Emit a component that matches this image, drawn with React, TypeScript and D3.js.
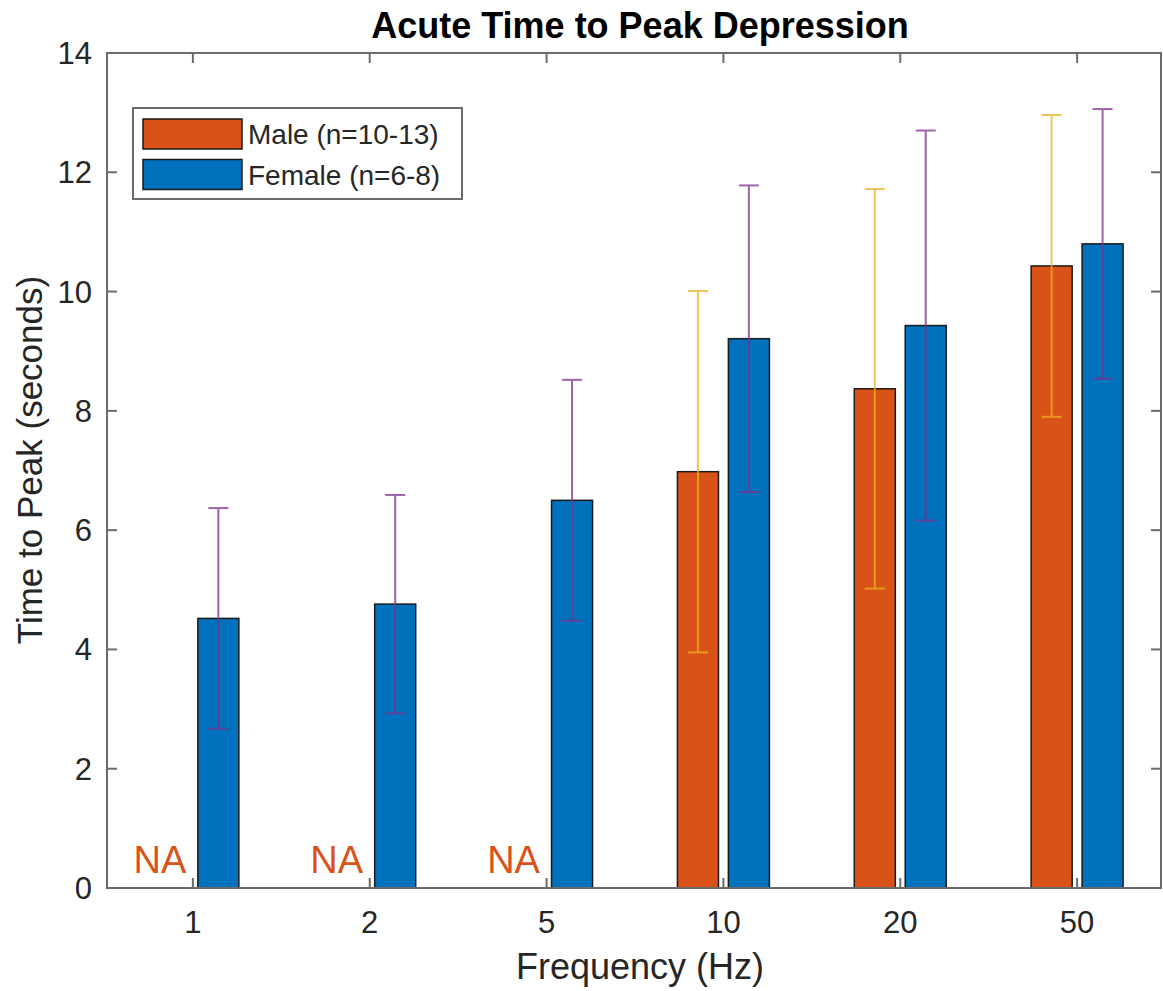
import React, { useRef, useEffect } from 'react';
import * as d3 from 'd3';

// chart data
const categories = ['1', '2', '5', '10', '20', '50'];
const maleMeans = [null, null, null, 6.98, 8.37, 10.43];
const maleErrors = [null, null, null, 3.03, 3.35, 2.53];
const femaleMeans = [4.52, 4.76, 6.5, 9.21, 9.43, 10.8];
const femaleErrors = [1.85, 1.83, 2.02, 2.57, 3.27, 2.26];
const yTicks = [0, 2, 4, 6, 8, 10, 12, 14];
const seriesNames = ['Male (n=10-13)', 'Female (n=6-8)'];

const App = () => {
  const ref = useRef(null);

  useEffect(() => {
    document.body.style.margin = '0';
    const svg = d3.select(ref.current);
    svg.selectAll('*').remove();

    const width = 1163;
    const height = 991;
    const font = '"Liberation Sans", Arial, sans-serif';
    const axisColor = '#6b6b6b';
    const textColor = '#262626';
    const maleColor = '#D95319';
    const femaleColor = '#0072BD';

    svg.attr('width', width).attr('height', height);
    svg.append('rect').attr('width', width).attr('height', height).attr('fill', '#fff');

    const left = 107, right = 1161, top = 53, bottom = 888;

    const x = d3.scalePoint().domain(categories).range([left + 1, right + 1]).padding(0.48);
    const y = d3.scaleLinear().domain([0, 14]).range([bottom, top]);

    const step = x.step();
    const barW = step * 0.232;
    const offset = step * 0.144;

    const series = [
      { name: seriesNames[0], means: maleMeans, errs: maleErrors, color: maleColor, errColor: '#EDB120', dx: -offset },
      { name: seriesNames[1], means: femaleMeans, errs: femaleErrors, color: femaleColor, errColor: '#7E2F8E', dx: offset }
    ];

    // bars
    series.forEach(s => {
      svg.append('g').selectAll('rect')
        .data(categories.map((c, i) => ({ c, v: s.means[i] })).filter(d => d.v != null))
        .enter()
        .append('rect')
        .attr('x', d => x(d.c) + s.dx - barW / 2)
        .attr('y', d => y(d.v))
        .attr('width', barW)
        .attr('height', d => y(0) - y(d.v))
        .attr('fill', s.color)
        .attr('stroke', '#1a1a1a')
        .attr('stroke-width', 1.5);
    });

    // error bars
    series.forEach(s => {
      const data = categories.map((c, i) => ({ c, v: s.means[i], e: s.errs[i] })).filter(d => d.v != null);
      const g = svg.append('g').attr('stroke', s.errColor).attr('stroke-width', 2).attr('opacity', 0.75);
      data.forEach(d => {
        const cx = x(d.c) + s.dx;
        g.append('line').attr('x1', cx).attr('x2', cx).attr('y1', y(d.v - d.e)).attr('y2', y(d.v + d.e));
        g.append('line').attr('x1', cx - 10).attr('x2', cx + 10).attr('y1', y(d.v - d.e)).attr('y2', y(d.v - d.e));
        g.append('line').attr('x1', cx - 10).attr('x2', cx + 10).attr('y1', y(d.v + d.e)).attr('y2', y(d.v + d.e));
      });
    });

    // NA labels where male data is missing
    svg.append('g').selectAll('text')
      .data(categories.filter((c, i) => maleMeans[i] == null))
      .enter()
      .append('text')
      .attr('x', d => x(d) - 33)
      .attr('y', 873)
      .attr('text-anchor', 'middle')
      .attr('font-family', font)
      .attr('font-size', 38)
      .attr('fill', maleColor)
      .text('NA');

    // axes box
    svg.append('rect')
      .attr('x', left).attr('y', top)
      .attr('width', right - left).attr('height', bottom - top)
      .attr('fill', 'none').attr('stroke', axisColor).attr('stroke-width', 2);

    const ticks = svg.append('g').attr('stroke', axisColor).attr('stroke-width', 2);
    categories.forEach(c => {
      ticks.append('line').attr('x1', x(c)).attr('x2', x(c)).attr('y1', bottom).attr('y2', bottom - 10);
      ticks.append('line').attr('x1', x(c)).attr('x2', x(c)).attr('y1', top).attr('y2', top + 10);
    });
    yTicks.forEach(t => {
      ticks.append('line').attr('x1', left).attr('x2', left + 10).attr('y1', y(t)).attr('y2', y(t));
      ticks.append('line').attr('x1', right).attr('x2', right - 10).attr('y1', y(t)).attr('y2', y(t));
    });

    // tick labels
    svg.append('g').selectAll('text')
      .data(categories)
      .enter()
      .append('text')
      .attr('x', d => x(d))
      .attr('y', bottom + 45)
      .attr('text-anchor', 'middle')
      .attr('font-family', font)
      .attr('font-size', 31)
      .attr('fill', textColor)
      .text(d => d);

    svg.append('g').selectAll('text')
      .data(yTicks)
      .enter()
      .append('text')
      .attr('x', left - 15)
      .attr('y', d => y(d) + 11)
      .attr('text-anchor', 'end')
      .attr('font-family', font)
      .attr('font-size', 31)
      .attr('fill', textColor)
      .text(d => d);

    // axis titles
    svg.append('text')
      .attr('x', (left + right) / 2 + 6)
      .attr('y', 979)
      .attr('text-anchor', 'middle')
      .attr('font-family', font)
      .attr('font-size', 36)
      .attr('fill', textColor)
      .text('Frequency (Hz)');

    svg.append('text')
      .attr('transform', `translate(42, 460) rotate(-90)`)
      .attr('text-anchor', 'middle')
      .attr('font-family', font)
      .attr('font-size', 35)
      .attr('fill', textColor)
      .text('Time to Peak (seconds)');

    svg.append('text')
      .attr('x', 640)
      .attr('y', 38)
      .attr('text-anchor', 'middle')
      .attr('font-family', font)
      .attr('font-size', 36)
      .attr('font-weight', 'bold')
      .attr('fill', '#000')
      .text('Acute Time to Peak Depression');

    // legend
    const lg = svg.append('g');
    lg.append('rect')
      .attr('x', 133).attr('y', 108).attr('width', 329).attr('height', 91)
      .attr('fill', '#fff').attr('stroke', axisColor).attr('stroke-width', 2);
    series.forEach((s, i) => {
      const yy = 119 + i * 40.5;
      lg.append('rect')
        .attr('x', 143).attr('y', yy).attr('width', 99).attr('height', 30)
        .attr('fill', s.color).attr('stroke', '#1a1a1a').attr('stroke-width', 1.5);
      lg.append('text')
        .attr('x', 248).attr('y', yy + 25)
        .attr('font-family', font)
        .attr('font-size', 28)
        .attr('fill', textColor)
        .text(s.name);
    });
  }, []);

  return (
    <div>
      <svg ref={ref} style={{ display: 'block' }} />
    </div>
  );
};

export default App;
